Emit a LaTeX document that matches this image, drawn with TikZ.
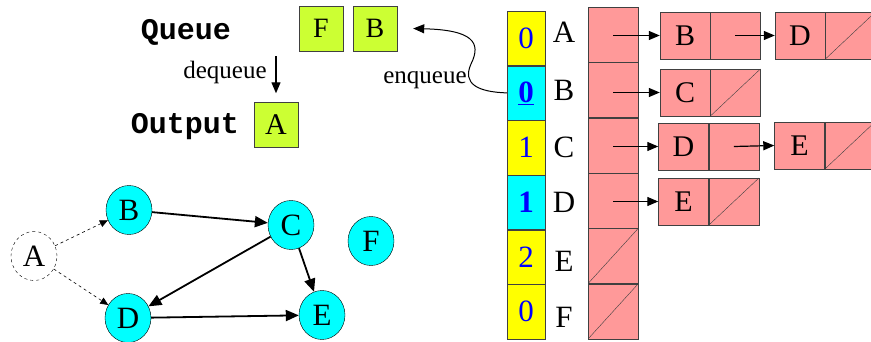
\documentclass[tikz,border=0pt]{standalone}
\usepackage{fontspec}
\setmainfont{Liberation Serif}
\setmonofont{Liberation Mono}
\usetikzlibrary{positioning,arrows.meta,shapes.geometric}
\definecolor{qgreen}{HTML}{CCFF33}
\definecolor{lpink}{HTML}{FF9999}
\definecolor{cblue}{HTML}{0000FF}
\definecolor{aqua}{HTML}{00FFFF}
\definecolor{lemon}{HTML}{FFFF00}
\tikzstyle{qbox}=[rectangle, draw=black!75, fill=qgreen, minimum width=44pt, minimum height=45pt, inner sep=0pt, font=\fontsize{28}{28}\selectfont]
\tikzstyle{cnt}=[rectangle, draw=black!75, minimum width=38pt, minimum height=54.3pt, inner sep=0pt, text=cblue, font=\fontsize{31}{31}\selectfont]
\tikzstyle{hcell}=[rectangle, draw=black!75, fill=lpink, minimum width=50pt, minimum height=55pt, inner sep=0pt]
\tikzstyle{lcell}=[rectangle, draw=black!75, fill=lpink, minimum width=50pt, minimum height=47pt, inner sep=0pt, font=\fontsize{30}{30}\selectfont]
\tikzstyle{nil}=[path picture={\draw (path picture bounding box.south west) -- (path picture bounding box.north east);}]
\tikzstyle{gnode}=[ellipse, draw, fill=aqua, minimum width=46pt, minimum height=49pt, inner sep=0pt, font=\fontsize{31}{31}\selectfont]
\tikzstyle{lbl}=[inner sep=0pt, font=\fontsize{31}{31}\selectfont]
\tikzstyle{ptr}=[-{Triangle[length=11pt,width=9pt]}, line width=1.2pt]
\tikzstyle{gedge}=[-{Triangle[length=13pt,width=11pt]}, line width=1.8pt]
\tikzstyle{dedge}=[-{Triangle[length=8pt,width=7pt]}, dashed, line width=0.6pt]

\begin{document}
\begin{tikzpicture}[x=1pt, y=-1pt, node distance=0pt]
\useasboundingbox (0,0) rectangle (871,342);
% queue and output
\node (qtitle) at (186,32) {\fontsize{30}{30}\selectfont\ttfamily\bfseries Queue};
\node (qF) [qbox] at (321,28.5) {F};
\node (qB) [qbox] at (375,28.5) {B};
\node (otitle) at (185,127) {\fontsize{30}{30}\selectfont\ttfamily\bfseries Output};
\node (outA) [qbox, font=\fontsize{30}{30}\selectfont] at (276,125) {A};
\node (deq) at (225,72) {\fontsize{25}{25}\selectfont dequeue};
\draw[ptr] ([yshift=46pt]outA.north) -- ([yshift=9pt]outA.north);
% in-degree column
\node (cntA) [cnt, fill=lemon] at (526,38.2) {0};
\node (cntB) [cnt, fill=aqua, below=of cntA] {\underline{\textbf{0}}};
\node (cntC) [cnt, fill=lemon, below=of cntB] {1};
\node (cntD) [cnt, fill=aqua, below=of cntC] {\textbf{1}};
\node (cntE) [cnt, fill=lemon, below=of cntD] {2};
\node (cntF) [cnt, fill=lemon, below=of cntE] {0};
\node (lA) [lbl] at (564,32) {A};
\node (lB) [lbl] at (564,90) {B};
\node (lC) [lbl] at (564,147) {C};
\node (lD) [lbl] at (564,202) {D};
\node (lE) [lbl] at (564,261) {E};
\node (lF) [lbl] at (564,317) {F};
\node (enq) at (425,80) {\fontsize{25}{25}\selectfont enqueue};
\draw[ptr, line width=1pt] (cntB.west) .. controls (478,92) and (462,84) .. (471,64) .. controls (482,42) and (472,30) .. ([xshift=16pt]qB.east);
% adjacency list heads
\node (hA) [hcell] at (613,34.5) {};
\node (hB) [hcell, below=of hA] {};
\node (hC) [hcell, below=of hB] {};
\node (hD) [hcell, below=of hC] {};
\node (hE) [hcell, nil, below=of hD] {};
\node (hF) [hcell, nil, below=of hE] {};
% list nodes
\node (nAB) [lcell] at (685,35.5) {B};
\node (nABp) [lcell, right=of nAB] {};
\node (nAD) [lcell] at (800,35.5) {D};
\node (nADp) [lcell, nil, right=of nAD] {};
\node (nBC) [lcell] at (685,92.5) {C};
\node (nBCp) [lcell, nil, right=of nBC] {};
\node (nCD) [lcell] at (683.5,146.5) {D};
\node (nCDp) [lcell, right=of nCD] {};
\node (nCE) [lcell] at (799.5,145.5) {E};
\node (nCEp) [lcell, nil, right=of nCE] {};
\node (nDE) [lcell] at (683.5,201.5) {E};
\node (nDEp) [lcell, nil, right=of nDE] {};
\draw[ptr] (hA.center |- nAB.west) -- (nAB.west);
\draw[ptr] (hB.center |- nBC.west) -- (nBC.west);
\draw[ptr] (hC.center |- nCD.west) -- (nCD.west);
\draw[ptr] (hD.center |- nDE.west) -- (nDE.west);
\draw[ptr] (nABp.center) -- (nAD.west);
\draw[ptr] (nCDp.center) -- (nCE.west);
% graph
\node (gA) [gnode, dashed, fill=white] at (34,256) {A};
\node (gB) [gnode] at (129,210) {B};
\node (gC) [gnode] at (291,225) {C};
\node (gF) [gnode] at (371,241) {F};
\node (gD) [gnode] at (128,318) {D};
\node (gE) [gnode] at (322,315) {E};
\draw[dedge] (gA) -- (gB);
\draw[dedge] (gA) -- (gD);
\draw[gedge] (gB) -- (gC);
\draw[gedge] (gC) -- (gD);
\draw[gedge] (gC) -- (gE);
\draw[gedge] (gD) -- (gE);
\end{tikzpicture}
\end{document}
